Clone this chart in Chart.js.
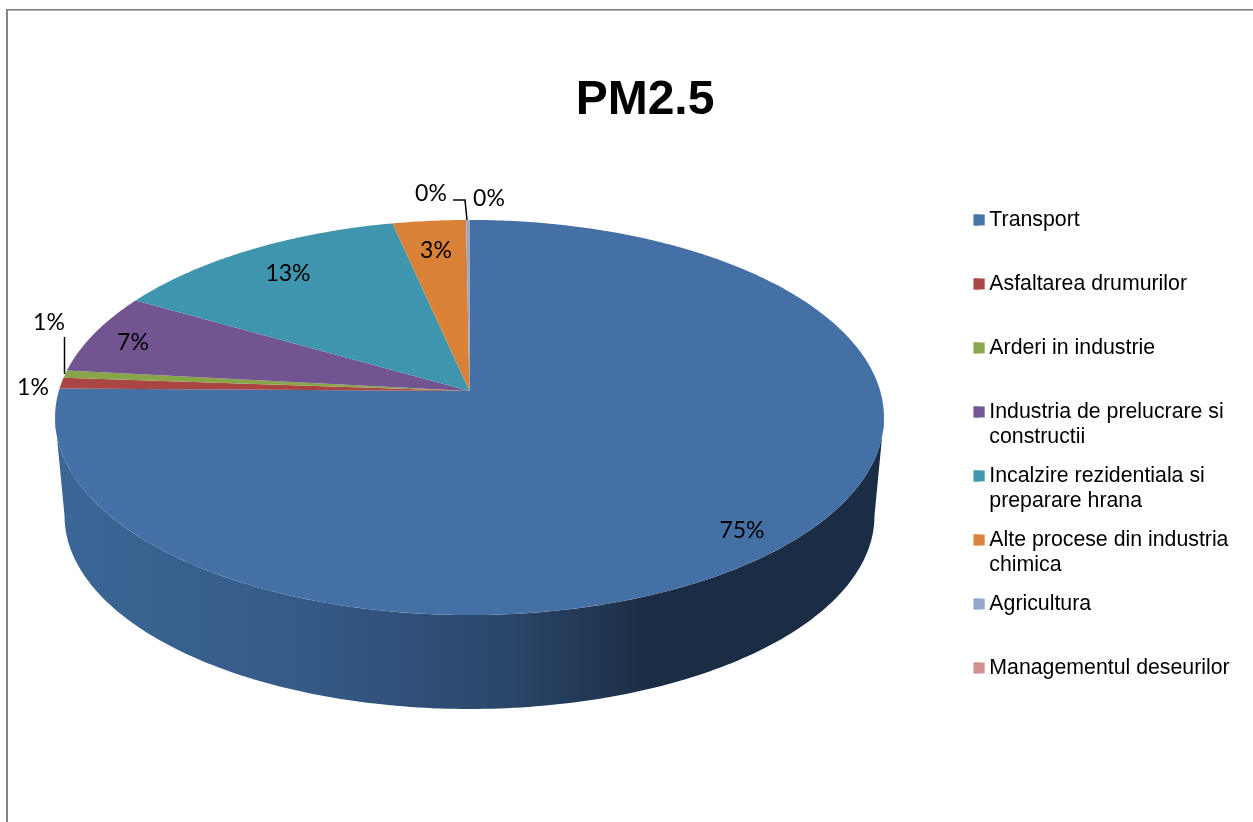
<!DOCTYPE html>
<html><head><meta charset="utf-8">
<style>html,body{margin:0;padding:0;background:#fff;overflow:hidden;width:1253px;height:822px}
#wrap{position:absolute;left:0;top:0;width:1290px;height:880px}</style>
<script src="https://cdn.jsdelivr.net/npm/chart.js@4/dist/chart.umd.min.js"></script>
</head><body><div id="wrap"><canvas id="c" width="1290" height="880"></canvas></div>
<script>
const categories=[["Transport"],["Asfaltarea drumurilor"],["Arderi in industrie"],["Industria de prelucrare si","constructii"],["Incalzire rezidentiala si","preparare hrana"],["Alte procese din industria","chimica"],["Agricultura"],["Managementul deseurilor"]];
const values=[75.2,0.9,0.6,6.6,13.3,3.25,0.13,0.02];
const sliceColors=["#4570A5","#A94644","#89A54A","#725590","#4095AE","#DA8138","#93A9CF","#D09392"];
const legendColors=["#4674A8","#AB4744","#8BA84C","#745690","#4198AF","#DB843D","#93A9CF","#D19392"];
const labelAnchors=[[742,531],[33,388],[49,323],[133,343],[288,274],[436,251],[431,194],[489,199]];
const leaders=[[[64.5,337],[64.5,374]],[[453,200],[465,200],[467,220]]];
const TOP={cx:469.5,cy:391,a:410.7,b:194};
const BOT={cx:469.5,cy:490,a:401.3,b:189.6};
const K=0.1341;
const LABEL_FONT='23px Lato';
const LEGEND_SIZE=21.3;
function proj(p,t){const u=Math.cos(t),v=Math.sin(t),w=1-K*v;return [p.cx+p.a*u/w,p.cy+p.b*v/w];}
const pie3d={id:'pie3d',
 beforeDraw(ch){const x=ch.ctx;x.save();x.fillStyle='#fff';x.fillRect(0,0,ch.width,ch.height);
  x.fillStyle='#868686';x.fillRect(6,9,2,ch.height);x.fillStyle='#808080';x.fillRect(6,9,ch.width,1);x.fillStyle='#b0b0b0';x.fillRect(8,10,ch.width,1);x.restore();},
 beforeDatasetsDraw(ch){const x=ch.ctx,arcs=ch.getDatasetMeta(0).data,tan=Math.asin(K);
  x.save();
  const g=x.createLinearGradient(55,0,884,0);
  g.addColorStop(0,'#3B6696');g.addColorStop(0.3,'#355A88');g.addColorStop(0.55,'#2A4669');g.addColorStop(0.72,'#1B2D44');g.addColorStop(1,'#1B2D44');
  x.fillStyle=g;x.beginPath();
  for(let i=0;i<=180;i++){const t=tan+(Math.PI-2*tan)*i/180,p=proj(TOP,t);i?x.lineTo(p[0],p[1]):x.moveTo(p[0],p[1]);}
  for(let i=180;i>=0;i--){const t=tan+(Math.PI-2*tan)*i/180,p=proj(BOT,t);x.lineTo(p[0],p[1]);}
  x.closePath();x.fill();
  arcs.forEach((arc,i)=>{const s=arc.startAngle,e=arc.endAngle,n=Math.max(2,Math.ceil((e-s)*90));
   x.fillStyle=sliceColors[i];x.beginPath();x.moveTo(TOP.cx,TOP.cy);
   for(let j=0;j<=n;j++){const p=proj(TOP,s+(e-s)*j/n);x.lineTo(p[0],p[1]);}
   x.closePath();x.fill();});
  x.restore();return false;},
 afterDraw(ch){const x=ch.ctx,total=values.reduce((a,b)=>a+b,0);
  x.save();x.strokeStyle='#000';x.lineWidth=1.5;
  leaders.forEach(l=>{x.beginPath();l.forEach((p,i)=>i?x.lineTo(p[0],p[1]):x.moveTo(p[0],p[1]));x.stroke();});
  x.fillStyle='#000';x.font=LABEL_FONT;x.textAlign='center';x.textBaseline='middle';
  values.forEach((v,i)=>x.fillText(Math.round(v/total*100)+'%',labelAnchors[i][0],labelAnchors[i][1]));
  x.textAlign='left';x.textBaseline='middle';x.font=LEGEND_SIZE+'px "Liberation Sans"';
  ch.legend.legendHitBoxes.forEach((h,i)=>{x.fillStyle=legendColors[i];x.fillRect(h.left,h.top+5.15,11,11);
   if(categories[i][1]){x.fillStyle='#000';x.fillText(categories[i][1],h.left+15.65,h.top+LEGEND_SIZE/2+25);}});
  x.restore();}
};
new Chart(document.getElementById('c'),{type:'pie',
 data:{labels:categories.map(c=>c[0]),datasets:[{data:values,backgroundColor:sliceColors,borderWidth:0}]},
 plugins:[pie3d],
 options:{responsive:false,animation:false,events:[],
  layout:{padding:{left:50.35,right:50.35}},
  plugins:{tooltip:{enabled:false},
   title:{display:true,text:'PM2.5',color:'#000',font:{family:'"Liberation Sans"',size:48,weight:'bold'},padding:{top:72,bottom:37}},
   legend:{position:'right',align:'start',fullSize:false,labels:{boxWidth:5,boxHeight:11,padding:42.7,color:'#000',font:{family:'"Liberation Sans"',size:LEGEND_SIZE},
    generateLabels:ch=>categories.map((c,i)=>({text:c[0],fillStyle:legendColors[i],strokeStyle:legendColors[i],lineWidth:0,index:i,hidden:false}))}}}}});
</script></body></html>
